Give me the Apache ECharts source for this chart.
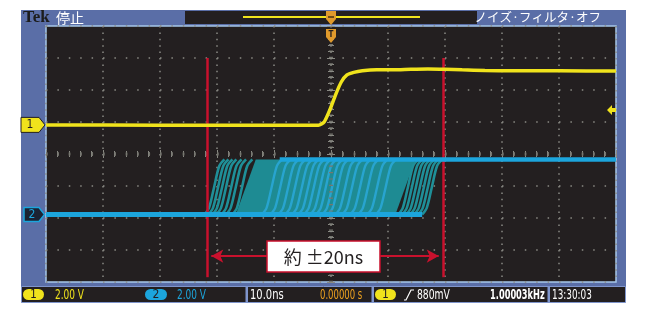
<!DOCTYPE html>
<html><head><meta charset="utf-8">
<script src="https://cdn.jsdelivr.net/npm/echarts@6/dist/echarts.min.js"></script>
<style>html,body{margin:0;padding:0;background:#fff;overflow:hidden}#c{width:647px;height:315px}</style>
</head><body><div id="c"></div>
<script>
// ---- axis ranges (10 ns/div horizontally, divisions vertically) ----
const timeMin = -50, timeMax = 50, timeStep = 10;
const divMin = -4, divMax = 4, divStep = 1;

// ---- CH1 (yellow) waveform, time in ns, level in divisions ----
const ch1Time  = [-50, -30, -10, -2.2, -1.2, -0.2, 0.8, 1.8, 2.8, 4.0, 5.5, 8, 11, 14, 17, 20, 23, 27, 32, 40, 50];
const ch1Level = [0.91, 0.9, 0.9, 0.9, 1.0, 1.38, 1.85, 2.25, 2.47, 2.55, 2.6, 2.63, 2.63, 2.65, 2.66, 2.65, 2.63, 2.61, 2.6, 2.6, 2.59];

// ---- CH2 (cyan) persistence: levels and edge positions (ns) ----
const ch2Low = -1.89, ch2High = -0.17;
const ch2OuterEdges = [-20.5, -19.8, -19.1, -18.4, -17.5, -16.7, -15.6, 13.5, 14.2, 14.9, 15.6, 16.3, 17.0, 17.7];
const ch2InnerEdges = [-10.4, -8.9, -7.5, -6.3, -5.1, -4.0, -3.0, -1.9, -0.9, 0.2, 1.2, 2.5, 3.7, 5.1, 6.5, 8.1, 9.6];
const edgeDt   = [-1.7, -0.9, 0.0, 0.9, 1.8];
const edgeFrac = [0, 0.12, 0.5, 0.88, 1];
const bandTime  = [-16.7, -13.2, 14.8, 11.3];
const bandLevel = [ch2Low, ch2High, ch2High, ch2Low];
const ch2LowEnd = 16.0, ch2HighStart = -9.0;

// ---- cursors / trigger ----
const cursorTimes = [-21.75, 19.65];
const cursorTop = 3.0, cursorBottom = -3.85;
const arrowLevel = -3.19;
const arrowEnds = [-21.0, 18.9];
const trigLevel = 1.375;
const measureLabel = '約 ±20ns';

// ---- status text ----
const statusTexts = {ch1Scale:'2.00 V', ch2Scale:'2.00 V', timeScale:'10.0ns', delay:'0.00000 s',
  trig:'880mV', freq:'1.00003kHz', clock:'13:30:03'};

const YEL = '#f0e31c', CYAN = '#1ca5dc', TEAL = '#1e8b93', RED = '#c9112d', GRIDC = '#8a8a84';
const BLUE = '#5a6ea7', DARK = '#231f20';

const chart = echarts.init(document.getElementById('c'));

const axisCommon = {type:'value', axisLabel:{show:false}, axisLine:{show:false},
  axisTick:{show:true, inside:true, length:4, lineStyle:{color:GRIDC, width:1}},
  minorTick:{show:true, splitNumber:5, length:3, lineStyle:{color:GRIDC, width:1}}};

const series = [];
// center cross ticks
series.push({type:'line', data:[], z:1, silent:true, animation:false,
  markLine:{symbol:'none', silent:true, animation:false, label:{show:false},
    data:[
      [{coord:[0, divMin], lineStyle:{color:'#76766f', width:4, type:[1.2, 5.2]}}, {coord:[0, divMax]}],
      [{coord:[timeMin, 0], lineStyle:{color:'#76766f', width:4, type:[1.4, 10]}}, {coord:[timeMax, 0]}]
    ]}});
// ch2 band fill
series.push({type:'custom', z:3, silent:true, animation:false, data:[[0, 0]], encode:{x:0, y:1},
  renderItem:(p, api) => ({type:'polygon',
    shape:{points: bandTime.map((t, i) => api.coord([t, bandLevel[i]]))},
    style:{fill:TEAL}})});
ch2OuterEdges.forEach(t => series.push({type:'line', z:3, silent:true, animation:false, symbol:'none', smooth:0.3,
  lineStyle:{color:'#1f8f98', width:2.6},
  data: edgeDt.map((d, i) => [t + d, ch2Low + edgeFrac[i] * (ch2High - ch2Low)])}));
ch2InnerEdges.forEach(t => series.push({type:'line', z:4, silent:true, animation:false, symbol:'none', smooth:0.3,
  lineStyle:{color:'#28a4cf', width:2.4},
  data: edgeDt.map((d, i) => [t + d, ch2Low + edgeFrac[i] * (ch2High - ch2Low)])}));
series.push({type:'line', z:5, silent:true, animation:false, symbol:'none',
  lineStyle:{color:CYAN, width:5}, data:[[timeMin, ch2Low], [ch2LowEnd, ch2Low]]});
series.push({type:'line', z:5, silent:true, animation:false, symbol:'none',
  lineStyle:{color:CYAN, width:4.5}, data:[[ch2HighStart, ch2High], [timeMax, ch2High]]});
// ch1
series.push({type:'line', z:6, silent:true, animation:false, symbol:'none', smooth:0.2,
  lineStyle:{color:YEL, width:3.5}, data: ch1Time.map((t, i) => [t, ch1Level[i]])});
// cursors + arrow
series.push({type:'line', z:8, silent:true, animation:false, symbol:'none', showSymbol:false, lineStyle:{width:0},
  data:[[cursorTimes[0], cursorTop]],
  markLine:{silent:true, animation:false, label:{show:false},
    data:[
      ...cursorTimes.map(t => [{coord:[t, cursorTop], symbol:'none', lineStyle:{color:RED, width:2.5, type:'solid'}}, {coord:[t, cursorBottom], symbol:'none'}]),
      [{coord:[arrowEnds[0], arrowLevel], symbol:'arrow', symbolSize:[10, 12], lineStyle:{color:RED, width:2, type:'solid'}},
       {coord:[arrowEnds[1], arrowLevel], symbol:'arrow', symbolSize:[10, 12]}]
    ]}});

const SF = '"DejaVu Sans Condensed","Liberation Sans",sans-serif';
const JP = '"Noto Sans CJK JP","Noto Sans",sans-serif';
function txt(id, x, y, text, color, size, sx, extra) {
  return {type:'text', id, z:100, x, y, scaleX:sx, style:{text, fill:color, font:(extra||'') + ' ' + size + 'px ' + SF, textVerticalAlign:'middle'}};
}
function pill(id, x, w, color, label) {
  return [{type:'rect', id:id + 'r', z:100, shape:{x, y:289, width:w, height:11, r:5.5}, style:{fill:color}},
          {type:'text', id:id + 't', z:101, x:x + w / 2, y:294.5, style:{text:label, fill:DARK, font:'12px ' + SF, textAlign:'center', textVerticalAlign:'middle'}}];
}

const graphics = [
  {type:'rect', id:'frame', z:-100, shape:{x:21, y:10, width:605, height:277}, style:{fill:BLUE}},
  {type:'rect', id:'plot', z:-99, shape:{x:46, y:26, width:570, height:256}, style:{fill:DARK}},
  {type:'rect', id:'topdark', z:100, shape:{x:185, y:11, width:292, height:13}, style:{fill:DARK}},
  {type:'line', id:'topyl', z:101, shape:{x1:243, y1:17, x2:420, y2:17}, style:{stroke:YEL, lineWidth:2}},
  {type:'polygon', id:'trg1', z:102, shape:{points:[[326,11],[336,11],[336,19],[331,25],[326,19]]}, style:{fill:'#e09a2c'}},
  {type:'rect', id:'trg1b', z:103, shape:{x:328, y:16, width:6, height:2}, style:{fill:'#6b4a1a'}},
  {type:'polygon', id:'trg2', z:102, shape:{points:[[326,29],[336,29],[336,37],[331,43],[326,37]]}, style:{fill:'#e09a2c'}},
  {type:'text', id:'trg2t', z:103, x:331, y:35, style:{text:'T', fill:DARK, font:'bold 8px ' + SF, textAlign:'center', textVerticalAlign:'middle'}},
  {type:'text', id:'tek', z:100, x:23, y:18, style:{text:'Tek', fill:'#1c1c1c', font:'bold 17px "Liberation Serif","DejaVu Serif",serif', textVerticalAlign:'middle'}},
  {type:'text', id:'stop', z:100, x:56, y:18, style:{text:'停止', fill:'#ffffff', font:'14px ' + JP, textVerticalAlign:'middle'}},
  {type:'text', id:'noise', z:100, x:601, y:17, style:{text:'ノイズ·フィルタ·オフ', fill:'#ffffff', font:'12.5px ' + JP, textAlign:'right', textVerticalAlign:'middle'}},
  // status bar
  {type:'rect', id:'sbar', z:99, shape:{x:21.5, y:286.5, width:604, height:16}, style:{fill:DARK, stroke:'#7f95cc', lineWidth:1}},
  {type:'rect', id:'sep1', z:100, shape:{x:245.5, y:286, width:2.5, height:17}, style:{fill:'#7f95cc'}},
  {type:'rect', id:'sep2', z:100, shape:{x:371.5, y:286, width:2.5, height:17}, style:{fill:'#7f95cc'}},
  {type:'rect', id:'sep3', z:100, shape:{x:547.5, y:286, width:2.5, height:17}, style:{fill:'#7f95cc'}},
  ...pill('p1', 23, 21, YEL, '1'),
  txt('s1', 55, 295, statusTexts.ch1Scale, YEL, 13.5, 0.74),
  ...pill('p2', 145, 22, CYAN, '2'),
  txt('s2', 177, 295, statusTexts.ch2Scale, CYAN, 13.5, 0.74),
  txt('s3', 250, 295, statusTexts.timeScale, '#ffffff', 13.5, 0.82),
  txt('s4', 320, 295, statusTexts.delay, '#f0a21e', 13.5, 0.7),
  ...pill('p3', 375, 21, YEL, '1'),
  {type:'polyline', id:'edge', z:100, shape:{points:[[404,300],[406,300],[411,290],[414,290]]}, style:{stroke:'#ffffff', lineWidth:1.2, fill:null}},
  txt('s5', 417, 295, statusTexts.trig, '#ffffff', 13.5, 0.76),
  txt('s6', 490, 295, statusTexts.freq, '#ffffff', 13.5, 0.68, 'bold'),
  txt('s7', 552, 295, statusTexts.clock, '#ffffff', 13.5, 0.73),
  // label box
  {type:'rect', id:'lbox', z:200, shape:{x:267, y:241, width:113, height:31}, style:{fill:'#ffffff', stroke:RED, lineWidth:1.5}},
  {type:'text', id:'ltxt', z:201, x:323.5, y:257, style:{text:measureLabel, fill:DARK, font:'18px ' + JP, textAlign:'center', textVerticalAlign:'middle'}}
];

chart.setOption({
  animation:false,
  grid:{left:46, top:26, width:570, height:256, show:true, backgroundColor:'transparent', borderColor:'#a6c8ea', borderWidth:1.5},
  xAxis:[
    Object.assign({}, axisCommon, {min:timeMin, max:timeMax, interval:timeStep, position:'bottom',
      splitLine:{show:true, lineStyle:{color:GRIDC, width:1.5, type:[1.5, 4.9]}}}),
    Object.assign({}, axisCommon, {min:timeMin, max:timeMax, interval:timeStep, position:'top', splitLine:{show:false}})
  ],
  yAxis:[
    Object.assign({}, axisCommon, {min:divMin, max:divMax, interval:divStep, position:'left',
      splitLine:{show:true, lineStyle:{color:GRIDC, width:1.5, type:[1.5, 9.9]}}}),
    Object.assign({}, axisCommon, {min:divMin, max:divMax, interval:divStep, position:'right', splitLine:{show:false}})
  ],
  series,
  graphic:{elements:graphics}
});

// channel ground markers and trigger level marker positioned through the axis scale
const y1 = chart.convertToPixel({yAxisIndex:0}, ch1Level[0]);
const y2 = chart.convertToPixel({yAxisIndex:0}, ch2Low);
const yt = chart.convertToPixel({yAxisIndex:0}, trigLevel);
chart.setOption({graphic:{elements:[
  {type:'polygon', id:'m1', z:150, shape:{points:[[21,y1-7.5],[39,y1-7.5],[45,y1],[39,y1+7.5],[21,y1+7.5]]}, style:{fill:YEL, stroke:DARK, lineWidth:1}},
  {type:'text', id:'m1t', z:151, x:30, y:y1, style:{text:'1', fill:DARK, font:'12px ' + SF, textAlign:'center', textVerticalAlign:'middle'}},
  {type:'polygon', id:'m2', z:150, shape:{points:[[24,y2-7],[39,y2-7],[44.5,y2],[39,y2+7],[24,y2+7]]}, style:{fill:'#1b2232', stroke:CYAN, lineWidth:1.5}},
  {type:'text', id:'m2t', z:151, x:32, y:y2, style:{text:'2', fill:CYAN, font:'12px ' + SF, textAlign:'center', textVerticalAlign:'middle'}},
  {type:'polygon', id:'tl', z:150, shape:{points:[[607,yt],[612,yt-5],[612,yt-2],[616,yt-2],[616,yt+2],[612,yt+2],[612,yt+5]]}, style:{fill:YEL}}
]}});
</script>
</body></html>
